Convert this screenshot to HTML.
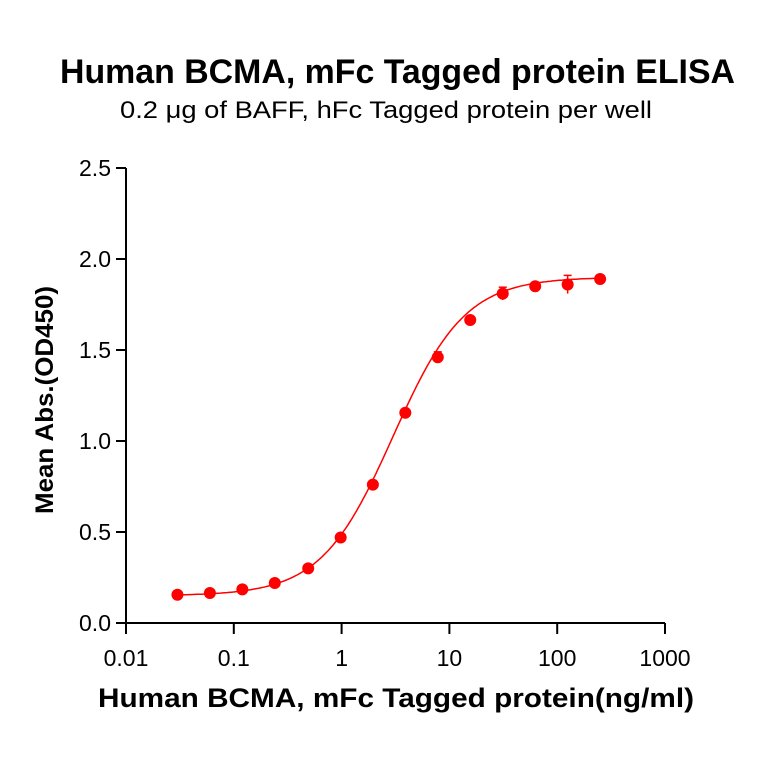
<!DOCTYPE html>
<html><head><meta charset="utf-8"><style>
body{margin:0;background:#fff;width:764px;height:764px;overflow:hidden;font-family:"Liberation Sans",sans-serif}
</style></head><body>
<svg width="764" height="764" font-family="Liberation Sans, sans-serif">
<text x="60" y="83" textLength="675" lengthAdjust="spacingAndGlyphs" font-size="34" font-weight="bold">Human BCMA, mFc Tagged protein ELISA</text>
<text x="120" y="118" textLength="532" lengthAdjust="spacingAndGlyphs" font-size="24">0.2 μg of BAFF, hFc Tagged protein per well</text>
<text transform="translate(53,514) rotate(-90)" textLength="228" lengthAdjust="spacingAndGlyphs" font-size="25" font-weight="bold">Mean Abs.(OD450)</text>
<text x="98" y="707" textLength="596" lengthAdjust="spacingAndGlyphs" font-size="27" font-weight="bold">Human BCMA, mFc Tagged protein(ng/ml)</text>
<g id="axes"></g><g id="marks"></g>
</svg>
<script>
const concentrations=[0.03,0.06,0.12,0.24,0.49,0.98,1.95,3.9,7.8,15.6,31.25,62.5,125,250];
const meanAbs=[0.155,0.165,0.185,0.22,0.30,0.47,0.76,1.155,1.46,1.665,1.81,1.85,1.86,1.89];
const errAbs=[0.01,0.01,0.01,0.01,0.01,0.01,0.01,0.015,0.03,0.02,0.035,0.02,0.05,0.02];
const yTicks=[0,0.5,1.0,1.5,2.0,2.5];
const yTickLabels=["0.0","0.5","1.0","1.5","2.0","2.5"];
const xTicks=[0.01,0.1,1,10,100,1000];
const xTickLabels=["0.01","0.1","1","10","100","1000"];
const fit={bottom:0.15,top:1.9,ec50:3.0,hill:1.3};
const NS="http://www.w3.org/2000/svg";
const X=v=>126+(Math.log10(v)+2)*107.8;
const Y=v=>623-v*182;
function mk(t,a,p){const e=document.createElementNS(NS,t);for(const k in a)e.setAttribute(k,a[k]);p.appendChild(e);return e;}
const ax=document.getElementById('axes'),mg=document.getElementById('marks');
let e=mk('line',{x1:126,y1:Y(2.5),x2:126,y2:623,stroke:'#000','stroke-width':2},ax);

e=mk('line',{x1:126,y1:623,x2:X(1000),y2:623,stroke:'#000','stroke-width':2},ax);

yTicks.forEach((v,i)=>{
 mk('line',{x1:116,y1:Y(v),x2:126,y2:Y(v),stroke:'#000','stroke-width':2},ax);
 const t=mk('text',{x:111,y:Y(v)+8,'text-anchor':'end','font-size':23},ax);t.textContent=yTickLabels[i];
 
});
xTicks.forEach((v,i)=>{
 mk('line',{x1:X(v),y1:623,x2:X(v),y2:634,stroke:'#000','stroke-width':2},ax);
 const t=mk('text',{x:X(v),y:666,'text-anchor':'middle','font-size':23},ax);t.textContent=xTickLabels[i];
 
});
let d='';
for(let lx=Math.log10(concentrations[0]);lx<=Math.log10(concentrations[concentrations.length-1])+1e-9;lx+=0.02){
 const c=Math.pow(10,lx);const y=fit.bottom+(fit.top-fit.bottom)/(1+Math.pow(fit.ec50/c,fit.hill));
 d+=(d?'L':'M')+X(c).toFixed(1)+','+Y(y).toFixed(1);
}
e=mk('path',{d:d,fill:'none',stroke:'#f00','stroke-width':1.5},mg);

concentrations.forEach((c,i)=>{
 const x=X(c),y=meanAbs[i],er=errAbs[i];
 mk('line',{x1:x,y1:Y(y+er),x2:x,y2:Y(y-er),stroke:'#f00','stroke-width':1.5},mg);
 mk('line',{x1:x-4,y1:Y(y+er),x2:x+4,y2:Y(y+er),stroke:'#f00','stroke-width':1.5},mg);
 const p=mk('circle',{cx:x,cy:Y(y),r:6,fill:'#f00'},mg);
 
});
</script>
</body></html>
